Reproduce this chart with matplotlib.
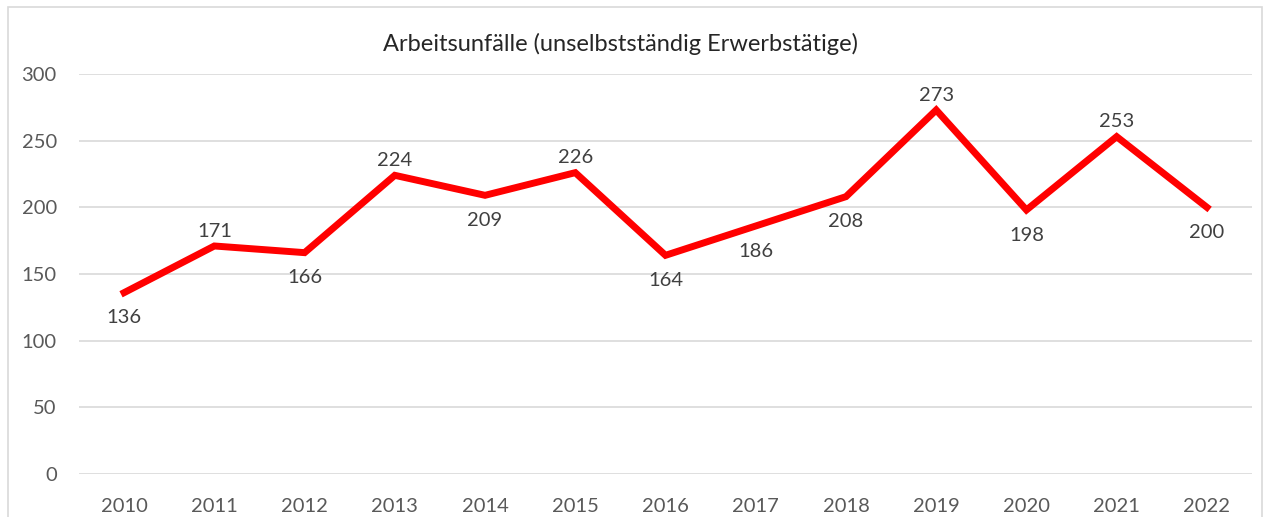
import matplotlib.pyplot as plt
from matplotlib.patches import Rectangle

years = ['2010', '2011', '2012', '2013', '2014', '2015', '2016',
         '2017', '2018', '2019', '2020', '2021', '2022']
unfaelle = [136, 171, 166, 224, 209, 226, 164, 186, 208, 273, 198, 253, 200]
# label above (True) or below (False) the point
above = [False, True, False, True, False, True, False,
         False, False, True, False, True, False]

plt.rcParams['font.family'] = ['Lato', 'DejaVu Sans']
grey = '#595959'

fig = plt.figure(figsize=(12.68, 5.17), dpi=100)
ax = fig.add_axes([0.0623, 0.0832, 0.9251, 0.7737])

x = list(range(len(years)))
ax.plot(x, unfaelle, color='#FF0000', linewidth=5, solid_joinstyle='miter', zorder=3)

for i, v in enumerate(unfaelle):
    if above[i]:
        ax.annotate(str(v), (i, v), xytext=(0, 4.5), textcoords='offset points',
                    ha='center', va='bottom', fontsize=14.5, color='#404040')
    else:
        ax.annotate(str(v), (i, v), xytext=(0, -12), textcoords='offset points',
                    ha='center', va='top', fontsize=14.5, color='#404040')

ax.set_xlim(-0.5, len(years) - 0.5)
ax.set_ylim(0, 300)
ax.set_yticks(range(0, 301, 50))
ax.set_xticks(x)
ax.set_xticklabels(years)
ax.grid(axis='y', color='#D9D9D9', linewidth=1.2)
ax.set_axisbelow(True)
for s in ax.spines.values():
    s.set_visible(False)
ax.tick_params(length=0, labelsize=14.5, colors=grey)
ax.tick_params(axis='y', pad=16)
ax.tick_params(axis='x', pad=17)

fig.text(0.489, 0.915, 'Arbeitsunfälle (unselbstständig Erwerbstätige)',
         ha='center', va='center', fontsize=17, color='#262626')

fig.patches.append(Rectangle((8 / 1268, -0.01), 1254 / 1268, 1 - 7 / 517 + 0.01,
                             transform=fig.transFigure, fill=False,
                             edgecolor='#D9D9D9', linewidth=1.2))

fig.savefig('out.png', dpi=100)
